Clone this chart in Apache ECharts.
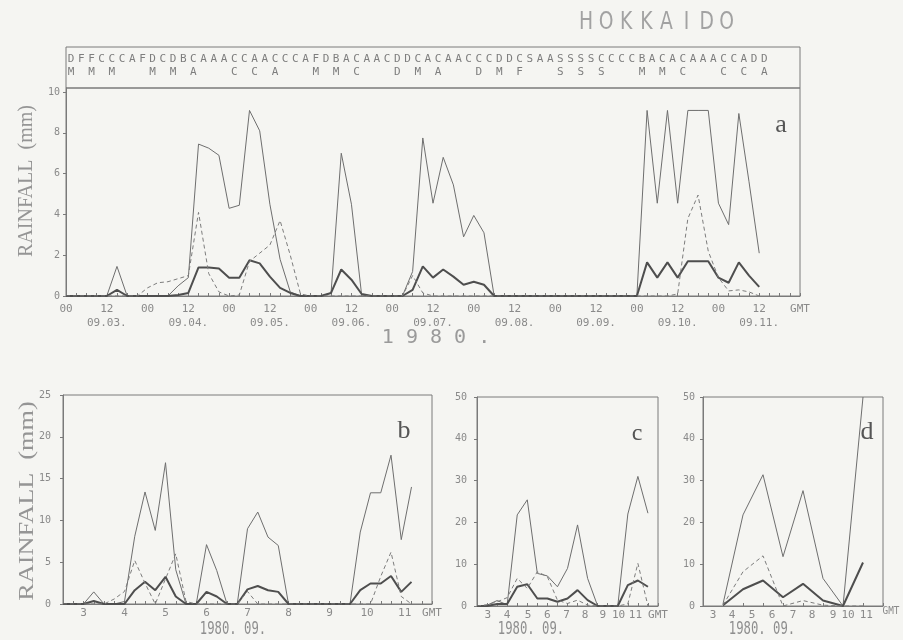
<!DOCTYPE html>
<html>
<head>
<meta charset="utf-8">
<title>HOKKAIDO rainfall 1980.09</title>
<script src="https://cdn.jsdelivr.net/npm/echarts@6/dist/echarts.min.js"></script>
<style>
  html, body { margin: 0; padding: 0; background: #f5f5f2; }
  #main { width: 903px; height: 640px; }
</style>
</head>
<body>
<div id="main"></div>
<script>
// time axis: hours after 1980.09.03 00 GMT
function steps(a, b, s) { const r = []; for (let h = a; h <= b; h += s) r.push(h); return r; }

// weather code strip of panel a (one letter per 3-hourly report)
const codeRow1 = 'DFFCCCAFDCDBCAAACCAACCCAFDBACAACDDCACAACCCDDCSAASSSSCCCCBACACAAACCADD';
const codeRow2 = 'M M M   M M A   C C A   M M C   D M A   D M F   S S S   M M C   C C A   ';

// panel a : 3-hourly rainfall (mm)
const hoursA = steps(0, 204, 3);
const thinA = [0,0,0,0,0,1.45,0,0,0,0, 0,0.5,0.9,7.45,7.25,6.9,4.3,4.45,9.1,8.1,
  4.5,1.8,0.2,0,0,0,0.15,7.0,4.5,0.05, 0,0,0,0,1.2,7.75,4.55,6.8,5.45,2.9,
  3.95,3.1,0, 0,0,0,0,0,0,0,0,0,0,0,0,0,0,
  9.1,4.55,9.1,4.55,9.1,9.1,9.1,4.55,3.5,8.95,5.6,2.1];
const thickA = [0,0,0,0,0,0.3,0,0,0,0, 0,0.05,0.15,1.4,1.4,1.35,0.9,0.9,1.75,1.6,
  0.95,0.4,0.15,0,0,0,0.15,1.3,0.8,0.1, 0,0,0,0,0.3,1.45,0.9,1.3,0.95,0.55,
  0.7,0.55,0, 0,0,0,0,0,0,0,0,0,0,0,0,0,0,
  1.65,0.9,1.65,0.9,1.7,1.7,1.7,0.9,0.65,1.65,1.0,0.45];
const dashA = [0,0,0,0,0,0,0,0,0.4,0.65, 0.7,0.85,1.0,4.1,1.1,0.2,0,0.05,1.7,2.1,
  2.5,3.7,2.0,0.1,0,0,0,0,0,0, 0,0,0,0,1.0,0.15,0,0,0,0,
  0,0,0, 0,0,0,0,0,0,0,0,0,0,0,0,0,0,
  0,0,0,0.1,3.8,4.95,2.2,0.9,0.25,0.3,0.2,0];

// panel b : 6-hourly
const hoursB = steps(0, 204, 6);
const thinB = [0,0,0,1.45,0,0, 0.3,8.1,13.4,8.8,16.9,4.1, 0,0,7.1,4.0,0,0,
  9.0,11.0,8.0,7.0,0,0, 0,0,0,0,0,8.6, 13.3,13.3,17.8,7.7,14.0];
const thickB = [0,0,0,0.35,0,0, 0,1.65,2.65,1.65,3.25,0.9, 0,0,1.45,0.9,0,0,
  1.75,2.15,1.65,1.45,0,0, 0,0,0,0,0,1.65, 2.45,2.45,3.35,1.45,2.65];
const dashB = [0,0,0,0,0,0.6, 1.5,5.2,2.5,0,3.0,6.0, 0.3,0,0,0,0,0,
  1.5,0,0,0,0,0, 0,0,0,0,0,0, 0,3.3,6.2,0.9,0];

// panel c : 12-hourly
const hoursC = steps(0, 204, 12);
const thinC = [0,0.2,1.3,0.3,21.8,25.4,7.8,7.2,4.6,9.0,19.4,6.6,0,0,0,22.0,31.0,22.2];
const thickC = [0,0,0.5,0.5,4.6,5.2,1.8,1.8,1.0,1.8,3.8,1.4,0,0,0,5.0,6.1,4.6];
const dashC = [0,0.3,1.0,2.0,6.6,4.2,8.2,7.0,1.4,0.6,1.4,0.2,0,0,0,0.5,10.2,0];

// panel d : daily
const hoursD = steps(24, 192, 24);
const thinD = [0.5,21.8,31.4,11.8,27.6,6.6,0,50];
const thickD = [0.2,4.0,6.1,2.1,5.3,1.3,0,10.4];
const dashD = [0.2,8.2,12.0,0,1.3,0.2,0,0];

// tick labels
const dayLabels = ['3','4','5','6','7','8','9','10','11','GMT'];
const labelHoursB = [12,36,60,84,108,132,156,178,200,216];
const labelHoursC = [13,36,61,84,107,129,150,169,189,216];
const labelHoursD = [12,35,59,83,108,131,156,174,196,216];

const GRAY = '#7a7a7a';
const LABEL = '#8a8a8a';
const MONO = '"DejaVu Sans Mono", monospace';
const SERIF = '"Liberation Serif", "DejaVu Serif", serif';

function pairs(xs, ys) { return xs.map((x, i) => [x, ys[i]]); }

function xAxis(gi, labelHours, fmt, tickHours) {
  return {
    type: 'value', gridIndex: gi, min: 0, max: 216,
    axisLine: { lineStyle: { color: GRAY } },
    splitLine: { show: false },
    axisTick: { inside: true, length: 3, customValues: tickHours, lineStyle: { color: GRAY } },
    axisLabel: { customValues: labelHours, formatter: fmt, color: LABEL,
      fontFamily: MONO, fontSize: 11, margin: 4,
      showMinLabel: true, showMaxLabel: true, hideOverlap: false }
  };
}
function yAxis(gi, max, ticks, margin) {
  return {
    type: 'value', gridIndex: gi, min: 0, max: max,
    axisLine: { show: true, lineStyle: { color: GRAY } },
    splitLine: { show: false },
    axisTick: { show: true, length: 3, customValues: ticks, lineStyle: { color: GRAY } },
    axisLabel: { customValues: ticks, color: LABEL, fontFamily: MONO, fontSize: 10, margin: margin }
  };
}
function lookup(hours, labels) {
  return function (v) { const i = hours.indexOf(v); return i < 0 ? '' : labels[i]; };
}
function three(gi, hours, thin, thick, dash) {
  return [
    { type: 'line', xAxisIndex: gi, yAxisIndex: gi, data: pairs(hours, thin), showSymbol: false,
      lineStyle: { color: '#6e6e6e', width: 1 } },
    { type: 'line', xAxisIndex: gi, yAxisIndex: gi, data: pairs(hours, thick), showSymbol: false,
      lineStyle: { color: '#4e4e4e', width: 2 } },
    { type: 'line', xAxisIndex: gi, yAxisIndex: gi, data: pairs(hours, dash), showSymbol: false,
      lineStyle: { color: '#7c7c7c', width: 1, type: [4, 3] } }
  ];
}

const chart = echarts.init(document.getElementById('main'));
const frame = { show: true, borderColor: GRAY, borderWidth: 1 };

const axisA = xAxis(0, steps(0, 216, 12), function (v) {
  if (v === 216) return 'GMT';
  if (v % 24 === 0) return '00';
  const d = 3 + Math.floor(v / 24);
  return '12\n09.' + (d < 10 ? '0' + d : d) + '.';
}, steps(0, 216, 3));
axisA.axisLabel.lineHeight = 14;
axisA.axisLabel.margin = 6;

chart.setOption({
  backgroundColor: '#f5f5f2',
  animation: false,
  grid: [
    Object.assign({ left: 66, top: 88, width: 734, height: 208 }, frame),
    Object.assign({ left: 63, top: 395, width: 369, height: 209 }, frame),
    Object.assign({ left: 477, top: 397, width: 181, height: 209 }, frame),
    Object.assign({ left: 703, top: 397, width: 180, height: 209 }, frame)
  ],
  xAxis: [
    axisA,
    xAxis(1, labelHoursB, lookup(labelHoursB, dayLabels), steps(0, 216, 6)),
    xAxis(2, labelHoursC, lookup(labelHoursC, dayLabels), steps(0, 216, 12)),
    xAxis(3, labelHoursD, lookup(labelHoursD, dayLabels), steps(0, 216, 24))
  ],
  yAxis: [
    yAxis(0, 10.2, [0, 2, 4, 6, 8, 10], 6),
    yAxis(1, 25, [0, 5, 10, 15, 20, 25], 12),
    yAxis(2, 50, [0, 10, 20, 30, 40, 50], 10),
    yAxis(3, 50, [0, 10, 20, 30, 40, 50], 8)
  ],
  series: [].concat(
    three(0, hoursA, thinA, thickA, dashA),
    three(1, hoursB, thinB, thickB, dashB),
    three(2, hoursC, thinC, thickC, dashC),
    three(3, hoursD, thinD, thickD, dashD)
  )
});

// texts
function txt(x, y, s, size, family, color, extra) {
  return Object.assign({
    type: 'text', x: x, y: y, silent: true,
    style: { text: s, fontSize: size, fontFamily: family, fill: color,
      align: 'center', verticalAlign: 'middle', textAlign: 'center', textVerticalAlign: 'middle' }
  }, extra || {});
}

const g = [];
g.push({ type: 'rect', shape: { x: 66, y: 47, width: 734, height: 41 },
  style: { fill: 'none', stroke: GRAY, lineWidth: 1 }, silent: true });
for (let i = 0; i < codeRow1.length; i++) {
  const p = chart.convertToPixel({ gridIndex: 0 }, [3 * i + 1.5, 0]);
  g.push(txt(p[0], 59, codeRow1[i], 11, MONO, '#7e7e7e'));
}
for (let i = 0; i < codeRow2.length; i++) {
  if (codeRow2[i] === ' ') continue;
  const p = chart.convertToPixel({ gridIndex: 0 }, [3 * i + 1.5, 0]);
  g.push(txt(p[0], 72, codeRow2[i], 11, MONO, '#7e7e7e'));
}
const title = 'HOKKAIDO';
for (let i = 0; i < title.length; i++) {
  g.push(txt(586 + 20.1 * i, 22, title[i], 25, '"DejaVu Sans", sans-serif', '#a2a2a2', { scaleX: 0.75 }));
}
// GMT of panel d sits right of the frame
g.push(txt(891, 611, 'GMT', 11, MONO, LABEL, { scaleX: 0.85 }));
g.push(txt(436, 338, '1 9 8 0 .', 20, MONO, '#9a9a9a'));
g.push(txt(233, 629, '1980. 09.', 18, MONO, '#8e8e8e', { scaleX: 0.68 }));
g.push(txt(531, 629, '1980. 09.', 18, MONO, '#8e8e8e', { scaleX: 0.68 }));
g.push(txt(762, 629, '1980. 09.', 18, MONO, '#8e8e8e', { scaleX: 0.68 }));
g.push(txt(781, 125, 'a', 26, SERIF, '#555'));
g.push(txt(404, 431, 'b', 26, SERIF, '#555'));
g.push(txt(637, 434, 'c', 24, SERIF, '#555'));
g.push(txt(867, 432, 'd', 26, SERIF, '#555'));
g.push(txt(27, 181, 'RAINFALL  (mm)', 20, SERIF, '#959595', { rotation: Math.PI / 2 }));
g.push(txt(27, 501, 'RAINFALL  (mm)', 21, SERIF, '#959595', { rotation: Math.PI / 2, scaleX: 1.25 }));

// panel d: GMT drawn as text above, so drop the axis one
chart.setOption({
  xAxis: [{}, {}, {}, { axisLabel: { customValues: labelHoursD.slice(0, 9) } }],
  graphic: { elements: g }
});
</script>
</body>
</html>
